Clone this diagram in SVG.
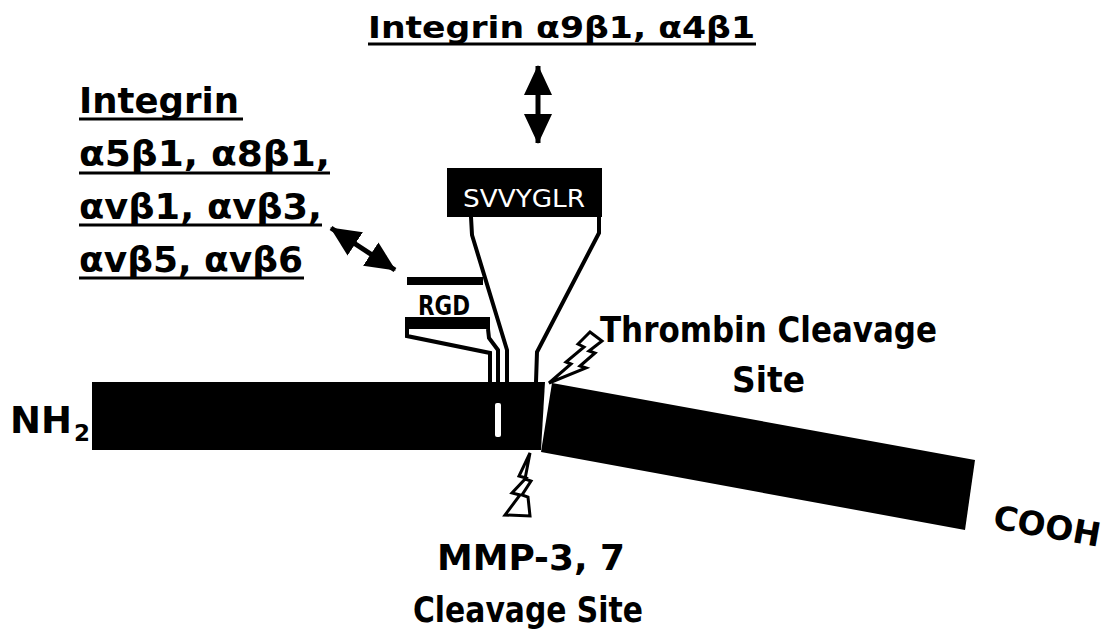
<svg xmlns="http://www.w3.org/2000/svg" width="1111" height="640" viewBox="0 0 1111 640">
  <style>
    .lbl { font-family: "DejaVu Sans", "Liberation Sans", sans-serif; font-weight: bold; fill: #000; }
    .ul { stroke: #000; stroke-width: 3; }
    .fun { fill: none; stroke: #000; stroke-width: 4; stroke-linejoin: miter; }
    .bolt { fill: #fff; stroke: #000; stroke-width: 3; stroke-linejoin: miter; }
    .dbl { stroke: #000; stroke-width: 5; marker-start: url(#head); marker-end: url(#head); }
  </style>
  <defs>
    <marker id="head" viewBox="0 0 30 28" refX="29" refY="14" markerWidth="30" markerHeight="28" markerUnits="userSpaceOnUse" orient="auto-start-reverse">
      <path d="M0,0 L30,14 L0,28 z" fill="#000"/>
    </marker>
  </defs>
  <rect width="1111" height="640" fill="#fff"/>

  <g id="title-label">
    <text class="lbl" x="368" y="38" font-size="30" textLength="387" lengthAdjust="spacingAndGlyphs">Integrin α9β1, α4β1</text>
    <line class="ul" x1="368" y1="44" x2="756" y2="44"/>
  </g>

  <g id="left-label">
    <text class="lbl" x="79" y="113" font-size="35" textLength="160" lengthAdjust="spacingAndGlyphs">Integrin</text>
    <line class="ul" x1="79" y1="119" x2="243" y2="119"/>
    <text class="lbl" x="79" y="166" font-size="35" textLength="251" lengthAdjust="spacingAndGlyphs">α5β1, α8β1,</text>
    <line class="ul" x1="79" y1="173" x2="330" y2="173"/>
    <text class="lbl" x="79" y="219" font-size="35" textLength="243" lengthAdjust="spacingAndGlyphs">αvβ1, αvβ3,</text>
    <line class="ul" x1="79" y1="225" x2="322" y2="225"/>
    <text class="lbl" x="79" y="272" font-size="35" textLength="224" lengthAdjust="spacingAndGlyphs">αvβ5, αvβ6</text>
    <line class="ul" x1="79" y1="278" x2="304" y2="278"/>
  </g>

  <g id="svvyglr-node">
    <rect x="447" y="168" width="155" height="49" fill="#000"/>
    <text x="524" y="207" font-family="'DejaVu Sans', 'Liberation Sans', sans-serif" font-size="25" fill="#fff" text-anchor="middle" textLength="122" lengthAdjust="spacingAndGlyphs">SVVYGLR</text>
  </g>

  <g id="rgd-node">
    <rect x="407" y="277" width="76" height="8" fill="#000"/>
    <text class="lbl" x="444" y="315" font-size="26" text-anchor="middle" textLength="52" lengthAdjust="spacingAndGlyphs">RGD</text>
    <rect x="405" y="317" width="85" height="12" fill="#000"/>
  </g>

  <g id="main-bar">
    <polygon points="92,382 545,382 541,450 92,450" fill="#000"/>
    <rect x="495" y="403" width="6" height="34" rx="2" fill="#fff"/>
    <polygon points="552,383 975,460 965,530 541,452" fill="#000"/>
  </g>

  <g id="nh2-label">
    <text class="lbl" x="10" y="433" font-size="37">NH</text>
    <text class="lbl" x="74" y="441" font-size="23">2</text>
  </g>

  <g id="cooh-label">
    <text class="lbl" x="992" y="528" font-size="33" transform="rotate(10 992 528)" textLength="108" lengthAdjust="spacingAndGlyphs">COOH</text>
  </g>

  <g id="thrombin-site">
    <polygon class="bolt" points="549,383 571,364 566,362 584,347 578,344 590,332 602,341 589,351 595,353 580,366 586,368"/>
    <text class="lbl" x="600" y="342" font-size="35" textLength="337" lengthAdjust="spacingAndGlyphs">Thrombin Cleavage</text>
    <text class="lbl" x="732" y="392" font-size="35" textLength="73" lengthAdjust="spacingAndGlyphs">Site</text>
  </g>

  <g id="mmp-site">
    <polygon class="bolt" points="530,453 519,476 526,478 512,493 520,495 505,515 530,516 528,497 522,495 531,481 525,479"/>
    <text class="lbl" x="437" y="570" font-size="35" textLength="188" lengthAdjust="spacingAndGlyphs">MMP-3, 7</text>
    <text class="lbl" x="413" y="622" font-size="35" textLength="230" lengthAdjust="spacingAndGlyphs">Cleavage Site</text>
  </g>

  <g id="connectors">
    <line class="dbl" x1="538" y1="66" x2="538" y2="143"/>
    <line class="dbl" x1="331" y1="228" x2="395" y2="270"/>
    <polyline class="fun" points="471,217 472,235 507,350 507,382"/>
    <polyline class="fun" points="599,217 599,233 537,352 536,382"/>
    <polyline class="fun" points="407,329 407,336 490,353 490,382"/>
    <polyline class="fun" points="488,329 489,338 498,350 498,382"/>
  </g>
</svg>
